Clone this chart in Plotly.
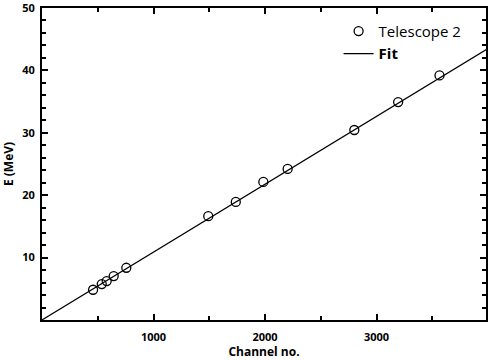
import plotly.graph_objects as go

# Data
channel = [458, 536, 580, 643, 756, 1491, 1738, 1985, 2203, 2801, 3194, 3565]
energy = [4.85, 5.76, 6.24, 7.04, 8.37, 16.64, 18.93, 22.13, 24.21, 30.45, 34.93, 39.2]
fit_x = [0, 4000]
fit_y = [0, 43.5]
x_ticks = [1000, 2000, 3000]
y_ticks = [10, 20, 30, 40, 50]

FONT = "Open Sans"

fig = go.Figure()
fig.add_trace(go.Scatter(
    x=channel, y=energy, mode="markers", name="Telescope 2",
    marker=dict(symbol="circle-open", size=9, color="black", line=dict(width=1.3, color="black")),
))
fig.add_trace(go.Scatter(
    x=fit_x, y=fit_y, mode="lines", name="<b>Fit</b>",
    line=dict(color="black", width=1.2),
))

axis_common = dict(
    showline=True, linecolor="black", linewidth=2, mirror="ticks",
    ticks="inside", tickcolor="black", ticklen=6, tickwidth=1.5,
    showgrid=False, zeroline=False, ticklabeloverflow="allow",
    tickfont=dict(family=FONT, size=11, color="black", weight="bold"),
)

fig.update_layout(
    width=488, height=360,
    margin=dict(l=42, r=0, t=6, b=40),
    plot_bgcolor="white", paper_bgcolor="white",
    font=dict(family=FONT, color="black"),
    showlegend=True,
    legend=dict(
        x=0.668, y=0.978, xanchor="left", yanchor="top",
        bgcolor="rgba(0,0,0,0)", font=dict(family=FONT, size=15, color="black"),
        tracegroupgap=0, itemsizing="trace",
    ),
    xaxis=dict(
        range=[0, 3982], tickvals=x_ticks,
        minor=dict(dtick=500, ticks="inside", ticklen=4, tickcolor="black"),
        title=dict(text="<b>Channel no.</b>", font=dict(family=FONT, size=12), standoff=1),
        ticklabelstandoff=6,
        **axis_common,
    ),
    yaxis=dict(
        range=[0, 50], tickvals=y_ticks,
        minor=dict(dtick=2, ticks="inside", ticklen=4, tickcolor="black"),
        title=dict(text="<b>E (MeV)</b>", font=dict(family=FONT, size=12), standoff=10),
        ticklabelstandoff=3,
        **axis_common,
    ),
)

fig.write_html("out.html")
